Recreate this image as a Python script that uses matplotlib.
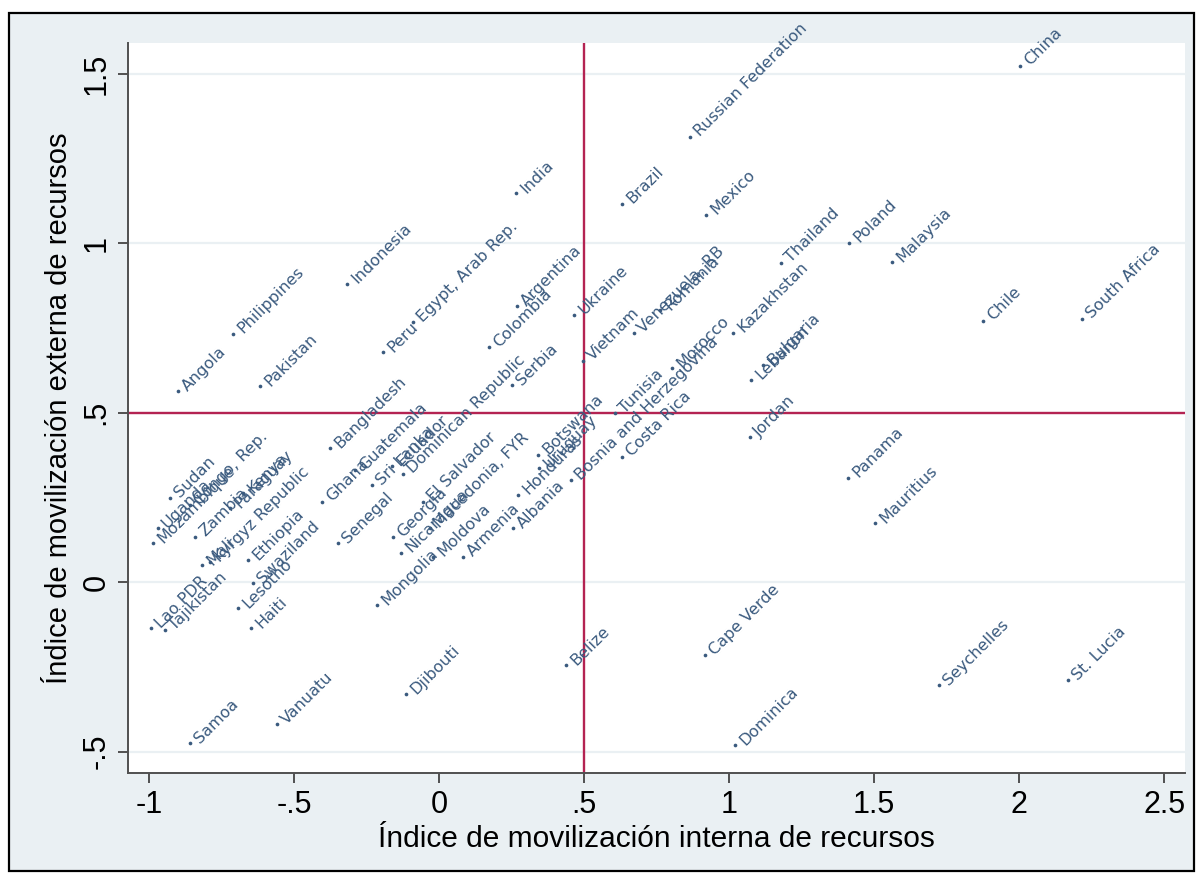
import matplotlib.pyplot as plt
from matplotlib.patches import Rectangle

# Resource mobilisation indices by country
countries = [
    'China', 'Russian Federation', 'India', 'Brazil', 'Mexico', 'Thailand',
    'Poland', 'Malaysia', 'Chile', 'South Africa', 'Indonesia', 'Philippines',
    'Angola', 'Pakistan', 'Peru', 'Egypt, Arab Rep.', 'Argentina', 'Colombia',
    'Ukraine', 'Vietnam', 'Venezuela, RB', 'Romania', 'Kazakhstan', 'Bulgaria',
    'Lebanon', 'Jordan', 'Morocco', 'Tunisia', 'Bosnia and Herzegovina',
    'Costa Rica', 'Serbia', 'Dominican Republic', 'Bangladesh', 'Guatemala',
    'Ghana', 'Sri Lanka', 'Ecuador', 'Senegal', 'Georgia', 'El Salvador',
    'Nicaragua', 'Macedonia, FYR', 'Mongolia', 'Moldova', 'Armenia', 'Albania',
    'Honduras', 'Botswana', 'Uruguay', 'Sudan', 'Uganda', 'Mozambique',
    'Congo, Rep.', 'Zambia', 'Paraguay', 'Kenya', 'Kyrgyz Republic', 'Mali',
    'Ethiopia', 'Swaziland', 'Lesotho', 'Haiti', 'Lao PDR', 'Tajikistan',
    'Panama', 'Mauritius', 'Belize', 'Cape Verde', 'Dominica', 'Seychelles',
    'St. Lucia', 'Samoa', 'Vanuatu', 'Djibouti',
]

interna = [
    2.003, 0.866, 0.266, 0.631, 0.921, 1.179,
    1.414, 1.562, 1.876, 2.217, -0.317, -0.710,
    -0.900, -0.617, -0.193, -0.090, 0.269, 0.172,
    0.466, 0.497, 0.672, 0.762, 1.014, 1.117,
    1.076, 1.072, 0.803, 0.607, 0.455,
    0.631, 0.252, -0.124, -0.376, -0.290,
    -0.403, -0.231, -0.162, -0.348, -0.159, -0.055,
    -0.131, -0.031, -0.214, -0.021, 0.083, 0.255,
    0.272, 0.341, 0.345, -0.928, -0.969, -0.986,
    -0.859, -0.841, -0.720, -0.676, -0.790, -0.817,
    -0.659, -0.641, -0.693, -0.648, -0.993, -0.945,
    1.410, 1.503, 0.438, 0.917, 1.021, 1.724,
    2.169, -0.859, -0.559, -0.114,
]

externa = [
    1.522, 1.313, 1.147, 1.115, 1.083, 0.941,
    1.000, 0.944, 0.770, 0.776, 0.879, 0.732,
    0.563, 0.578, 0.678, 0.767, 0.814, 0.693,
    0.788, 0.652, 0.735, 0.802, 0.735, 0.640,
    0.596, 0.428, 0.631, 0.498, 0.301,
    0.369, 0.581, 0.319, 0.395, 0.330,
    0.236, 0.286, 0.342, 0.115, 0.133, 0.236,
    0.086, 0.159, -0.068, 0.074, 0.074, 0.159,
    0.257, 0.375, 0.336, 0.248, 0.159, 0.115,
    0.227, 0.133, 0.218, 0.262, 0.059, 0.050,
    0.065, -0.003, -0.077, -0.136, -0.136, -0.142,
    0.307, 0.174, -0.245, -0.215, -0.481, -0.304,
    -0.289, -0.475, -0.419, -0.330,
]

x_ticks = [-1, -0.5, 0, 0.5, 1, 1.5, 2, 2.5]
x_tick_labels = ['-1', '-.5', '0', '.5', '1', '1.5', '2', '2.5']
y_ticks = [-0.5, 0, 0.5, 1, 1.5]
y_tick_labels = ['-.5', '0', '.5', '1', '1.5']

BG = '#eaf0f3'
NAVY = '#3a5a7e'
CRANBERRY = '#b42352'

fig = plt.figure(figsize=(12.03, 8.84), dpi=100)
fig.patch.set_facecolor('white')
frame = Rectangle((9 / 1203, 1 - 871 / 884), 1185 / 1203, 858 / 884,
                  transform=fig.transFigure, facecolor=BG,
                  edgecolor='black', linewidth=1.6, zorder=-10)
fig.patches.append(frame)

ax = fig.add_axes([128 / 1203, 1 - 773 / 884, 1057 / 1203, 730 / 884])
ax.set_facecolor('white')
ax.set_xlim(-1.072, 2.572)
ax.set_ylim(-0.563, 1.59)

for yv in y_ticks:
    ax.axhline(yv, color=BG, linewidth=1.6, zorder=0)

ax.axvline(0.5, color=CRANBERRY, linewidth=1.7, zorder=1)
ax.axhline(0.5, color=CRANBERRY, linewidth=1.7, zorder=1)

ax.scatter(interna, externa, s=7, color=NAVY, zorder=3, linewidths=0)
for name, xv, yv in zip(countries, interna, externa):
    ax.annotate(name, (xv, yv), xytext=(5, 2), textcoords='offset points',
                rotation=45, rotation_mode='anchor', ha='left', va='center',
                fontsize=11.5, color=NAVY, family='DejaVu Sans', zorder=4)

for side in ['top', 'right']:
    ax.spines[side].set_visible(False)
for side in ['left', 'bottom']:
    ax.spines[side].set_color('#505050')
    ax.spines[side].set_linewidth(1.4)

ax.set_xticks(x_ticks)
ax.set_xticklabels(x_tick_labels, family='Liberation Sans', fontsize=22)
ax.set_yticks(y_ticks)
ax.set_yticklabels(y_tick_labels, family='Liberation Sans', fontsize=22,
                   rotation=90, va='center')
ax.tick_params(axis='both', length=7, width=1.4, color='#505050', pad=5)

ax.set_xlabel('Índice de movilización interna de recursos',
              family='Liberation Sans', fontsize=21.5, labelpad=4)
ax.set_ylabel('Índice de movilización externa de recursos',
              family='Liberation Sans', fontsize=21, labelpad=6)

fig.savefig('out.png', dpi=100, facecolor=fig.get_facecolor())
